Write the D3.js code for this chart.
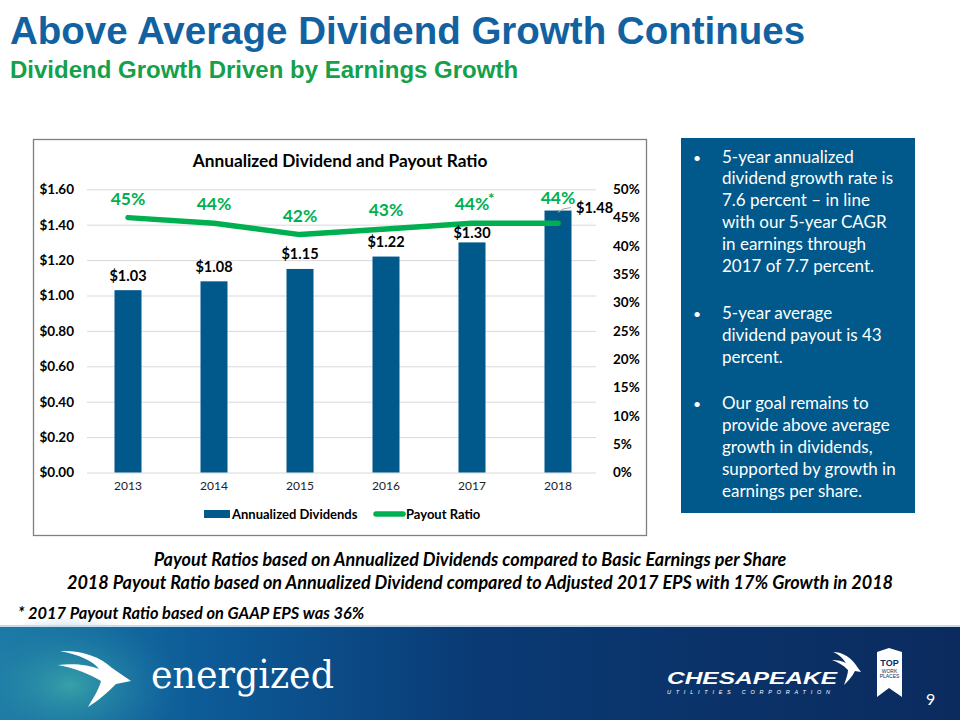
<!DOCTYPE html>
<html>
<head>
<meta charset="utf-8">
<script src="https://cdn.jsdelivr.net/npm/d3@7"></script>
<style>
  html, body { margin: 0; padding: 0; background: #fff; }
  svg { display: block; }
</style>
</head>
<body>
<svg id="chart" width="960" height="720"></svg>
<script>
// ---------------- DATA ----------------
const years = ["2013", "2014", "2015", "2016", "2017", "2018"];
const dividends = [1.03, 1.08, 1.15, 1.22, 1.30, 1.48];
const payoutRatio = [0.45, 0.44, 0.42, 0.43, 0.44, 0.44];
const payoutMarks = ["", "", "", "", "*", ""];
const dividendTicks = [0, 0.2, 0.4, 0.6, 0.8, 1.0, 1.2, 1.4, 1.6];
const payoutTicks = [0, 0.05, 0.10, 0.15, 0.20, 0.25, 0.30, 0.35, 0.40, 0.45, 0.50];
const seriesNames = ["Annualized Dividends", "Payout Ratio"];
const titleText = "Above Average Dividend Growth Continues";
const subtitleText = "Dividend Growth Driven by Earnings Growth";
const chartTitle = "Annualized Dividend and Payout Ratio";
const bullets = [
  ["5-year annualized", "dividend growth rate is", "7.6 percent \u2013 in line", "with our 5-year CAGR", "in earnings through", "2017 of 7.7 percent."],
  ["5-year average", "dividend payout is 43", "percent."],
  ["Our goal remains to", "provide above average", "growth in dividends,", "supported by growth in", "earnings per share."]
];
const notes = [
  "Payout Ratios based on Annualized Dividends compared to Basic Earnings per Share",
  "2018 Payout Ratio based on Annualized Dividend compared to Adjusted 2017 EPS with 17% Growth in 2018"
];
const footnote = "* 2017 Payout Ratio based on GAAP EPS was 36%";
const pageNumber = "9";

// ---------------- STYLE ----------------
const BLUE = "#00598a";
const GREEN = "#00b050";
const TITLE_BLUE = "#1262a2";
const SUB_GREEN = "#15a04a";
const FONT = "Lato, 'Noto Sans', sans-serif";

const svg = d3.select("#chart");

// ---------------- HEADER ----------------
svg.append("text").attr("x", 10).attr("y", 44)
  .attr("font-family", "'Liberation Sans', Arial, sans-serif").attr("font-weight", "bold")
  .attr("font-size", 38.5).attr("fill", TITLE_BLUE).text(titleText);
svg.append("text").attr("x", 10).attr("y", 78)
  .attr("font-family", "'Liberation Sans', Arial, sans-serif").attr("font-weight", "bold")
  .attr("font-size", 24).attr("fill", SUB_GREEN).text(subtitleText);

// ---------------- CHART BOX ----------------
svg.append("rect").attr("x", 33.5).attr("y", 139.5).attr("width", 613).attr("height", 396)
  .attr("fill", "#fff").attr("stroke", "#7f7f7f").attr("stroke-width", 1.3);

svg.append("text").attr("x", 340).attr("y", 167).attr("text-anchor", "middle")
  .attr("font-family", FONT).attr("font-weight", "bold").attr("font-size", 17.3)
  .attr("fill", "#000").text(chartTitle);

const x = d3.scaleBand().domain(years).range([85, 601]).padding(0);
const y = d3.scaleLinear().domain([0, 1.6]).range([472.5, 189.3]);
const y2 = d3.scaleLinear().domain([0, 0.5]).range([472.5, 189.3]);
const barW = 27;
const cx = d => x(d) + x.bandwidth() / 2;

// gridlines
const grid = svg.append("g").attr("transform", "translate(87,0)")
  .call(d3.axisLeft(y).tickValues(dividendTicks).tickSize(-509).tickFormat(""));
grid.select(".domain").remove();
grid.selectAll("line").attr("stroke", "#d9d9d9").attr("stroke-width", 1);

// left axis
const yAx = svg.append("g").attr("transform", "translate(74,0)")
  .call(d3.axisLeft(y).tickValues(dividendTicks).tickSize(0).tickPadding(0)
    .tickFormat(d => "$" + d.toFixed(2)));
yAx.select(".domain").remove();
yAx.selectAll("text").attr("font-family", FONT).attr("font-weight", "bold")
  .attr("font-size", 13.5).attr("fill", "#000");

// right axis
const y2Ax = svg.append("g").attr("transform", "translate(613,0)")
  .call(d3.axisRight(y2).tickValues(payoutTicks).tickSize(0).tickPadding(0)
    .tickFormat(d => Math.round(d * 100) + "%"));
y2Ax.select(".domain").remove();
y2Ax.selectAll("text").attr("font-family", FONT).attr("font-weight", "bold")
  .attr("font-size", 13.5).attr("fill", "#000");

// x axis
const xAx = svg.append("g").attr("transform", "translate(0,481)")
  .call(d3.axisBottom(x).tickSize(0).tickPadding(0));
xAx.select(".domain").remove();
xAx.selectAll("text").attr("font-family", FONT).attr("font-size", 12).attr("fill", "#222");

// bars
svg.append("g").selectAll("rect").data(dividends).join("rect")
  .attr("x", (d, i) => cx(years[i]) - barW / 2)
  .attr("y", d => y(d))
  .attr("width", barW)
  .attr("height", d => y(0) - y(d))
  .attr("fill", BLUE);

// payout line
const line = d3.line().x((d, i) => cx(years[i])).y(d => y2(d));
svg.append("path").datum(payoutRatio).attr("d", line)
  .attr("fill", "none").attr("stroke", GREEN).attr("stroke-width", 5.5)
  .attr("stroke-linecap", "round").attr("stroke-linejoin", "round");

// bar labels (label gap shrinks where the payout line sits just above)
const last = dividends.length - 1;
const labelGap = (d, i) => (y(d) - y2(payoutRatio[i]) < 24 ? 4.5 : 9.5);
svg.append("g").selectAll("text").data(dividends).join("text")
  .attr("x", (d, i) => i === last ? cx(years[i]) + 18 : cx(years[i]))
  .attr("y", (d, i) => i === last ? y(d) + 2 : y(d) - labelGap(d, i))
  .attr("text-anchor", (d, i) => i === last ? "start" : "middle")
  .attr("font-family", FONT).attr("font-weight", "bold").attr("font-size", 14.5)
  .attr("fill", "#000").text(d => "$" + d.toFixed(2));
// leader line for last bar label
svg.append("path")
  .attr("d", `M${cx(years[last])},${y(dividends[last]) + 2} L${cx(years[last]) + 5},${y(dividends[last]) - 1.5} L${cx(years[last]) + 13},${y(dividends[last]) - 3}`)
  .attr("fill", "none").attr("stroke", "#a6a6a6").attr("stroke-width", 1);

// payout labels
svg.append("g").selectAll("text").data(payoutRatio).join("text")
  .attr("x", (d, i) => cx(years[i]))
  .attr("y", (d, i) => y2(d) - (i === last ? 19 : 13))
  .attr("text-anchor", "middle")
  .attr("font-family", FONT).attr("font-weight", "bold").attr("font-size", 17.5)
  .attr("fill", GREEN).text(d => Math.round(d * 100) + "%");
// superscript marks placed after the label
svg.append("g").selectAll("text")
  .data(payoutMarks.map((m, i) => ({ m, i })).filter(o => o.m !== ""))
  .join("text")
  .attr("x", o => cx(years[o.i]) + 16)
  .attr("y", o => y2(payoutRatio[o.i]) - 19)
  .attr("font-family", FONT).attr("font-weight", "bold").attr("font-size", 15)
  .attr("fill", GREEN).text(o => o.m);

// legend
const lg = svg.append("g");
lg.append("rect").attr("x", 204).attr("y", 510).attr("width", 26).attr("height", 8).attr("fill", BLUE);
lg.append("text").attr("x", 232).attr("y", 519).attr("font-family", FONT).attr("font-weight", "bold")
  .attr("font-size", 13).attr("fill", "#000").text(seriesNames[0]);
lg.append("line").attr("x1", 376).attr("x2", 403).attr("y1", 514).attr("y2", 514)
  .attr("stroke", GREEN).attr("stroke-width", 5.5).attr("stroke-linecap", "round");
lg.append("text").attr("x", 406).attr("y", 519).attr("font-family", FONT).attr("font-weight", "bold")
  .attr("font-size", 13).attr("fill", "#000").text(seriesNames[1]);

// ---------------- RIGHT PANEL ----------------
svg.append("rect").attr("x", 681).attr("y", 138).attr("width", 234).attr("height", 375).attr("fill", BLUE);
const panel = svg.append("g").attr("font-family", FONT).attr("font-size", 17).attr("fill", "#fff");
let ly = 162.5;
bullets.forEach((para) => {
  panel.append("text").attr("x", 693).attr("y", ly).attr("font-size", 14).text("\u2022");
  para.forEach((ln, li) => {
    panel.append("text").attr("x", 722).attr("y", ly + li * 21.9).text(ln);
  });
  ly += (para.length - 1) * 21.9 + 46.7;
});

// ---------------- NOTES ----------------
notes.forEach((n, i) => {
  svg.append("text").attr("x", i === 0 ? 470 : 480).attr("y", 566 + i * 22.5)
    .attr("text-anchor", "middle").attr("font-family", FONT).attr("font-weight", "bold")
    .attr("font-style", "italic").attr("font-size", 18).attr("fill", "#000").text(n);
});
svg.append("text").attr("x", 18).attr("y", 618.5).attr("font-family", FONT).attr("font-weight", "bold")
  .attr("font-style", "italic").attr("font-size", 16.4).attr("fill", "#000").text(footnote);

// ---------------- FOOTER ----------------
const defs = svg.append("defs");
const lgd = defs.append("linearGradient").attr("id", "fg").attr("x1", 0).attr("x2", 1).attr("y1", 0).attr("y2", 0);
lgd.append("stop").attr("offset", "0").attr("stop-color", "#1d7aa6");
lgd.append("stop").attr("offset", "0.22").attr("stop-color", "#0c5a97");
lgd.append("stop").attr("offset", "0.5").attr("stop-color", "#0a3a74");
lgd.append("stop").attr("offset", "1").attr("stop-color", "#0b2b5e");
const rg = defs.append("radialGradient").attr("id", "glow").attr("cx", 0.5).attr("cy", 0.5).attr("r", 0.5);
rg.append("stop").attr("offset", "0").attr("stop-color", "#3aa6a8").attr("stop-opacity", 0.9);
rg.append("stop").attr("offset", "1").attr("stop-color", "#1d7aa6").attr("stop-opacity", 0);

svg.append("rect").attr("x", 0).attr("y", 627).attr("width", 960).attr("height", 93).attr("fill", "url(#fg)");
svg.append("ellipse").attr("cx", 70).attr("cy", 685).attr("rx", 110).attr("ry", 70).attr("fill", "url(#glow)");
svg.append("rect").attr("x", 0).attr("y", 625).attr("width", 960).attr("height", 2).attr("fill", "#c9dbe9");

// left bird logo
svg.append("path").attr("fill", "#fff").attr("d",
  "M60,651 C80,650 100,656 112,668 L131,681 L116,684 C108,692 98,701 88,707 C94,697 99,689 101,681 " +
  "C90,674 74,668 58,665 C74,663 89,665 99,669 C92,660 79,655 60,651 Z");
svg.append("text").attr("x", 151).attr("y", 688).attr("font-family", "'DejaVu Serif', serif")
  .attr("font-size", 40).attr("fill", "#fff").attr("textLength", 183).attr("lengthAdjust", "spacingAndGlyphs")
  .text("energized");

// Chesapeake logo
svg.append("text").attr("x", 667).attr("y", 684).attr("font-family", "'Liberation Sans', Arial, sans-serif")
  .attr("font-weight", "bold").attr("font-style", "italic").attr("font-size", 17).attr("fill", "#fff")
  .attr("textLength", 170).attr("lengthAdjust", "spacingAndGlyphs").text("CHESAPEAKE");
svg.append("text").attr("x", 667).attr("y", 694).attr("font-family", "'Liberation Sans', Arial, sans-serif")
  .attr("font-style", "italic").attr("font-size", 5.5).attr("fill", "#fff")
  .attr("textLength", 163).attr("lengthAdjust", "spacing").text("UTILITIES  CORPORATION");
svg.append("path").attr("fill", "#fff").attr("d",
  "M833,652 C843,652 852,658 858,668 L861,672 L855,671 C852,677 848,681 844,685 C846,679 848,674 848,670 " +
  "C843,665 838,662 832,660 C838,660 842,661 846,663 C842,657 838,654 833,652 Z");
// Top work places badge
svg.append("path").attr("fill", "#fff").attr("d", "M877,652 L889,648 L902,652 L902,697 L889,688 L877,697 Z");
svg.append("text").attr("x", 889.5).attr("y", 666).attr("text-anchor", "middle")
  .attr("font-family", "'Liberation Sans', Arial, sans-serif").attr("font-weight", "bold")
  .attr("font-size", 9).attr("fill", "#0b2b5e").text("TOP");
svg.append("text").attr("x", 889.5).attr("y", 673).attr("text-anchor", "middle")
  .attr("font-family", "'Liberation Sans', Arial, sans-serif").attr("font-size", 5)
  .attr("fill", "#0b2b5e").text("WORK");
svg.append("text").attr("x", 889.5).attr("y", 678).attr("text-anchor", "middle")
  .attr("font-family", "'Liberation Sans', Arial, sans-serif").attr("font-size", 5)
  .attr("fill", "#0b2b5e").text("PLACES");
svg.append("text").attr("x", 926).attr("y", 705).attr("font-family", FONT)
  .attr("font-size", 16).attr("fill", "#fff").text(pageNumber);
</script>
</body>
</html>
